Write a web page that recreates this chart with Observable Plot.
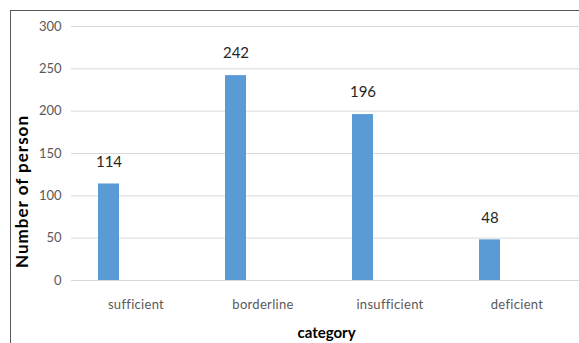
<!DOCTYPE html>
<html>
<head>
<meta charset="utf-8">
<script src="https://cdn.jsdelivr.net/npm/d3@7"></script>
<script src="https://cdn.jsdelivr.net/npm/@observablehq/plot@0.6"></script>
<style>
  html, body { margin: 0; padding: 0; background: #fff; overflow: hidden; }
  #wrap { position: relative; width: 579px; height: 343px; }
  #frame { position: absolute; left: 10px; top: 10px; width: 600px; height: 400px;
           border-left: 1px solid #595959; border-top: 1px solid #595959; pointer-events: none; }
  svg { font-family: Lato, "Liberation Sans", sans-serif; }
  .ytitle text { letter-spacing: 1px; }
  .xlab text { letter-spacing: 0.3px; }
</style>
</head>
<body>
<div id="wrap"><div id="frame"></div></div>
<script>
const categories = ["sufficient", "borderline", "insufficient", "deficient"];
const counts = [114, 242, 196, 48];
const yTicks = [0, 50, 100, 150, 200, 250, 300];
const yTitle = "Number of person";
const xTitle = "category";

const data = categories.map((c, i) => ({category: c, count: counts[i]}));

const chart = Plot.plot({
  width: 579,
  height: 343,
  marginTop: 26,
  marginBottom: 63,
  marginLeft: 71,
  marginRight: -2,
  style: {background: "transparent", overflow: "visible"},
  x: {domain: categories, padding: 0, label: null},
  y: {domain: [0, 300], ticks: yTicks, label: null},
  marks: [
    Plot.gridY(yTicks, {stroke: "#d9d9d9", strokeOpacity: 1, strokeWidth: 1}),
    Plot.barY(data, {x: "category", y: "count", fill: "#5b9bd5", insetLeft: 26, insetRight: 80}),
    Plot.ruleY([0], {stroke: "#d9d9d9", strokeWidth: 1}),
    Plot.axisY(yTicks, {tickSize: 0, tickPadding: 10, fontSize: 13, fill: "#595959", label: null}),
    Plot.axisX({tickSize: 0, tickPadding: 19, fontSize: 13, fill: "#595959", label: null, className: "xlab"}),
    Plot.text(data, {x: "category", y: "count", text: d => String(d.count), dx: -27, dy: -22, fontSize: 15, fill: "#262626"}),
    Plot.text([yTitle], {frameAnchor: "left", textAnchor: "middle", rotate: -90, dx: -49, dy: 38, fontSize: 17, fontWeight: "bold", fill: "#000", className: "ytitle"}),
    Plot.text([xTitle], {frameAnchor: "bottom", lineAnchor: "middle", dy: 53, fontSize: 15, fontWeight: "bold", fill: "#000"})
  ]
});
document.getElementById("wrap").prepend(chart);
</script>
</body>
</html>
